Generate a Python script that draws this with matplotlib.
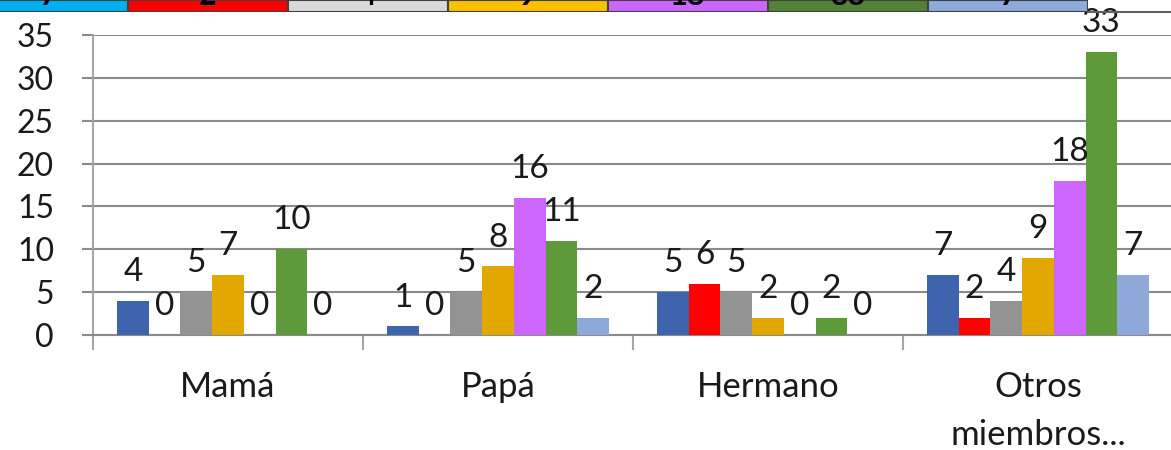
import matplotlib.pyplot as plt
import numpy as np

categories = ["Mamá", "Papá", "Hermano", "Otros\nmiembros..."]
mama = [4, 0, 5, 7, 0, 10, 0]
papa = [1, 0, 5, 8, 16, 11, 2]
hermano = [5, 6, 5, 2, 0, 2, 0]
otros = [7, 2, 4, 9, 18, 33, 7]
bar_colors = ["#3F64AE", "#FF0000", "#939393", "#E2A800", "#CC66FF", "#5E9A3A", "#8EA8DA"]
cell_colors = ["#00B0F0", "#FF0000", "#D9D9D9", "#FFC000", "#CC66FF", "#548235", "#8EA9DB"]

plt.rcParams['font.family'] = ['Lato', 'DejaVu Sans']
text_color = "#1a1a1a"
grid_color = "#8a8a8a"

values = np.array([mama, papa, hermano, otros])
n_series = values.shape[1]
x = np.arange(len(categories))
w = 0.1174

fig = plt.figure(figsize=(11.71, 4.5), dpi=100)
ax = fig.add_axes([93 / 1171, 115 / 450, 1080 / 1171, 300 / 450])

for i in range(n_series):
    pos = x + (i - (n_series - 1) / 2) * w
    ax.bar(pos, values[:, i], width=w, color=bar_colors[i], zorder=3)
    for px, v in zip(pos, values[:, i]):
        ax.annotate(str(v), (px, v), xytext=(0, 10), textcoords="offset points",
                    ha="center", va="bottom", fontsize=24, color=text_color,
                    annotation_clip=False, zorder=4)

ax.set_xlim(-0.5, 3.5)
ax.set_ylim(0, 35)
ax.set_yticks(range(0, 36, 5))
ax.grid(axis="y", color=grid_color, linewidth=1.5, zorder=0)
ax.set_axisbelow(True)

for s in ["top", "right"]:
    ax.spines[s].set_visible(False)
ax.spines["left"].set_color("#a6a6a6")
ax.spines["left"].set_linewidth(1.5)
ax.spines["bottom"].set_color(grid_color)
ax.spines["bottom"].set_linewidth(1.5)

ax.tick_params(axis="y", length=8, width=1.5, color=grid_color, pad=20,
               labelsize=23, labelcolor=text_color)
ax.set_xticks(x)
ax.set_xticklabels(categories, fontsize=25, color=text_color, linespacing=1.6)
ax.set_xticks(np.arange(-0.5, 4, 1), minor=True)
ax.tick_params(axis="x", which="major", length=0, pad=26)
ax.tick_params(axis="x", which="minor", length=11, width=1.5, color="#a6a6a6")

# cropped table row at the top
tab = fig.add_axes([0, 1 - 12 / 450, 1088 / 1171, 12 / 450])
tab.set_xlim(0.2, 7)
tab.set_ylim(0, 1)
tab.axis("off")
for i, (c, v) in enumerate(zip(cell_colors, otros)):
    tab.bar(i + 0.5, 1, width=1, bottom=0, color=c, edgecolor="#404040", linewidth=1.5)
    tab.text(i + 0.5, 0.62, str(v), ha="center", va="baseline", fontsize=22,
             fontweight="bold", color="black", clip_on=True)
fig.add_artist(plt.Line2D([1088 / 1171, 1], [1 - 12 / 450] * 2, color="#606060",
                          linewidth=1.5, transform=fig.transFigure))

fig.savefig("out.png", dpi=100)
